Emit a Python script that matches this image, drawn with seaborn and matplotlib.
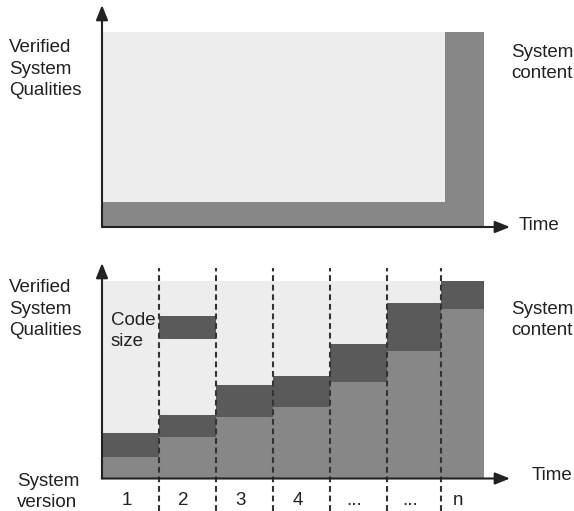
import numpy as np
import matplotlib
matplotlib.use("Agg")
import matplotlib.pyplot as plt
import seaborn as sns

# ---------------- data ----------------
version_labels = ["1", "2", "3", "4", "...", "...", "n"]
version_edges = [0, 1, 2, 3, 4, 5, 5.95, 6.7]
verified_quality = [11, 21, 31, 36, 48.5, 64.5, 85.5]
system_content = [23, 32, 47, 52, 68, 88.5, 100]
code_size_bar = [70.7, 82.3]          # floating code-size block in version 2
code_size_version = 1                  # index of version holding the block
max_quality = 100

bigbang_edges = [0, 6.02, 6.7]
bigbang_verified = [12.8, 100]

# ---------------- style ----------------
sns.set_theme(style="white")
plt.rcParams['font.family'] = ['Liberation Sans', 'DejaVu Sans']

LIGHT = "#EDEDED"
MED = "#878787"
DARK = "#5A5A5A"
INK = "#222222"
FS = 13.5

W, H = 574, 511
fig = plt.figure(figsize=(W / 100, H / 100), dpi=100)


def px_axes(left, right, bottom, top):
    return fig.add_axes([left / W, 1 - bottom / H, (right - left) / W, (bottom - top) / H])


def ftext(x, y, s, **kw):
    fig.text(x / W, 1 - y / H, s, fontsize=FS, color=INK, va="center", ha="left",
             linespacing=1.36, **kw)


def arrows(ax):
    for end in [(1, 0), (0, 1)]:
        ax.annotate("", xy=end, xytext=(0, 0), xycoords="axes fraction",
                    textcoords="axes fraction",
                    arrowprops=dict(arrowstyle="-|>,head_length=0.75,head_width=0.3",
                                    color=INK, lw=1.5, shrinkA=0, shrinkB=0),
                    zorder=6)


XMAX = (510 - 102) / 57

# ---------------- top panel ----------------
ax1 = px_axes(102, 510, 227, 5)
ax1.set_xlim(0, XMAX)
ax1.set_ylim(0, (227 - 5) / 1.95)
ax1.axis("off")
ax1.bar(0, max_quality, width=bigbang_edges[-1], align="edge", color=LIGHT, lw=0)
bb_left = np.array(bigbang_edges[:-1])
bb_w = np.diff(bigbang_edges)
ax1.bar(bb_left, bigbang_verified, width=bb_w, align="edge", color=MED, lw=0)
arrows(ax1)

# ---------------- bottom panel ----------------
ax2 = px_axes(102, 510, 478.5, 263)
ax2.set_xlim(0, XMAX)
ax2.set_ylim(0, (478.5 - 263) / 1.98)
ax2.axis("off")
left = np.array(version_edges[:-1])
widths = np.diff(version_edges)
ver = np.array(verified_quality)
con = np.array(system_content)
ax2.bar(0, max_quality, width=version_edges[-1], align="edge", color=LIGHT, lw=0)
ax2.bar(left, ver, width=widths, align="edge", color=MED, lw=0)
ax2.bar(left, con - ver, bottom=ver, width=widths, align="edge", color=DARK, lw=0)
ax2.bar(left[code_size_version], code_size_bar[1] - code_size_bar[0],
        bottom=code_size_bar[0], width=widths[code_size_version], align="edge",
        color=DARK, lw=0)
ax2.vlines(version_edges[1:-1], (478.5 - 511) / 1.98, (478.5 - 268) / 1.98,
           colors="#333333", lw=1.5, linestyles=(0, (2.8, 1.8)), clip_on=False, zorder=5)
arrows(ax2)
centers = (left + np.array(version_edges[1:])) / 2 - 0.07
for cx, lab in zip(centers, version_labels):
    ax2.text(cx, (478.5 - 500) / 1.98, lab, fontsize=FS, color=INK,
             ha="center", va="center", clip_on=False)

# ---------------- texts ----------------
ftext(9, 69, "Verified\nSystem\nQualities")
ftext(511, 63, "System\ncontent")
ftext(519, 225, "Time")

ftext(9, 309, "Verified\nSystem\nQualities")
ftext(111, 331, "Code\nsize")
ftext(511, 320, "System\ncontent")
ftext(532, 475, "Time")
ftext(17, 492, "System\nversion")

fig.savefig("out.png", dpi=100)
